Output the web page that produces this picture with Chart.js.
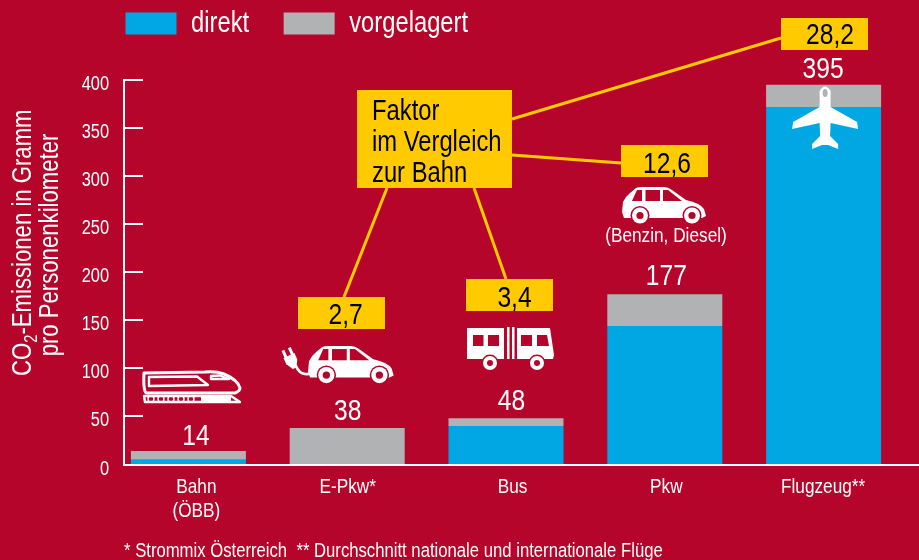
<!DOCTYPE html>
<html lang="de"><head><meta charset="utf-8">
<style>html,body{margin:0;padding:0;background:#b6052a;overflow:hidden}canvas{display:block}</style>
<script src="https://cdn.jsdelivr.net/npm/chart.js@4"></script>
</head><body><canvas id="c" width="919" height="560"></canvas>
<script>
const categories = [["Bahn","(ÖBB)"],"E-Pkw*","Bus","Pkw","Flugzeug**"];
const direkt = [5,0,40,144,372];
const vorgelagert = [9,38,8,33,23];
const totals = ["14","38","48","177","395"];
const factors = ["2,7","3,4","12,6","28,2"];
const yTicks = [0,50,100,150,200,250,300,350,400];
const titleLine2 = "pro Personenkilometer";
const footnote = "* Strommix Österreich  ** Durchschnitt nationale und internationale Flüge";
const calloutLines = ["Faktor","im Vergleich","zur Bahn"];

const FONT = '"Liberation Sans",Arial,sans-serif';
const RED='#b6052a', BLUE='#00a7e3', GREY='#b1b2b3', YEL='#ffcb00', WHITE='#ffffff';
const f = s => `${s}px ${FONT}`;

// The reference uses a narrow grotesque: condense all canvas text horizontally.
const NARROW=0.82;
const canvasEl=document.getElementById('c');
const c2d=canvasEl.getContext('2d');
const _fill=c2d.fillText.bind(c2d), _measure=c2d.measureText.bind(c2d);
c2d.fillText=function(t,x,y){c2d.save();c2d.translate(x,y);c2d.scale(NARROW,1);_fill(t,0,0);c2d.restore();};
c2d.measureText=function(t){const m=_measure(t);return {width:m.width*NARROW,actualBoundingBoxAscent:m.actualBoundingBoxAscent,actualBoundingBoxDescent:m.actualBoundingBoxDescent};};

function car(ctx,ox,oy,s){
  ctx.save();ctx.translate(ox,oy);ctx.scale(s,s);
  ctx.fillStyle=WHITE;ctx.beginPath();
  ctx.moveTo(0,25);ctx.lineTo(1,15);ctx.quadraticCurveTo(4,9,8,6);ctx.lineTo(14,1);ctx.quadraticCurveTo(16,0,20,0);
  ctx.lineTo(42,0);ctx.quadraticCurveTo(46,0,50,3);ctx.lineTo(64,13);ctx.quadraticCurveTo(78,16,82,22);ctx.lineTo(84,29);
  ctx.lineTo(80,31);ctx.lineTo(2,31);ctx.closePath();ctx.fill();
  ctx.fillStyle=RED;
  [[[10,14],[15,3],[20,3],[20,14]],[[23.5,3],[38,3],[38,14],[23.5,14]],[[41,3],[46,3],[60,14],[41,14]]].forEach(p=>{
    ctx.beginPath();p.forEach((q,i)=>i?ctx.lineTo(q[0],q[1]):ctx.moveTo(q[0],q[1]));ctx.closePath();ctx.fill();});
  [18,70].forEach(x=>{
    ctx.fillStyle=RED;ctx.beginPath();ctx.arc(x,28.5,9.5,0,7);ctx.fill();
    ctx.fillStyle=WHITE;ctx.beginPath();ctx.arc(x,28.5,8,0,7);ctx.fill();
    ctx.fillStyle=RED;ctx.beginPath();ctx.arc(x,28.5,3.6,0,7);ctx.fill();});
  ctx.restore();
}
function plug(ctx){
  ctx.strokeStyle=WHITE;ctx.lineCap='round';ctx.lineWidth=2.6;
  ctx.beginPath();ctx.moveTo(296,366);ctx.bezierCurveTo(300,376,310,376,314,370);ctx.stroke();
  ctx.save();ctx.translate(291,360);ctx.rotate(-0.42);ctx.fillStyle=WHITE;
  ctx.beginPath();ctx.moveTo(-6,-5);ctx.lineTo(6,-5);ctx.lineTo(6,2);ctx.lineTo(2,9);ctx.lineTo(-2,9);ctx.lineTo(-6,2);ctx.closePath();ctx.fill();
  ctx.fillRect(-5,-12,3,8);ctx.fillRect(2,-12,3,8);ctx.restore();
}
function bus(ctx){
  ctx.fillStyle=WHITE;ctx.fillRect(467,328,37,31);ctx.fillRect(507,327,2.5,32);ctx.fillRect(512,327,2.5,32);
  ctx.beginPath();ctx.moveTo(517,328);ctx.lineTo(550,328);ctx.lineTo(554,355);ctx.lineTo(553,359);ctx.lineTo(517,359);ctx.closePath();ctx.fill();
  ctx.fillStyle=RED;ctx.fillRect(473,335,10.5,11);ctx.fillRect(488,335,11,11);ctx.fillRect(521,335,11,11);
  ctx.beginPath();ctx.moveTo(537,335);ctx.lineTo(547,335);ctx.lineTo(549,346);ctx.lineTo(537,346);ctx.closePath();ctx.fill();
  [490,537].forEach(x=>{ctx.fillStyle=RED;ctx.beginPath();ctx.arc(x,363,8.5,0,7);ctx.fill();
    ctx.fillStyle=WHITE;ctx.beginPath();ctx.arc(x,363,7,0,7);ctx.fill();
    ctx.fillStyle=RED;ctx.beginPath();ctx.arc(x,363,3,0,7);ctx.fill();});
}
function train(ctx){
  ctx.strokeStyle=WHITE;ctx.lineWidth=3;ctx.lineJoin='round';ctx.lineCap='round';
  ctx.beginPath();ctx.moveTo(144,373);ctx.lineTo(205,372);ctx.quadraticCurveTo(216,371,224,374);ctx.quadraticCurveTo(238,380,240,388);
  ctx.quadraticCurveTo(240,391,235,393);ctx.lineTo(147,393);ctx.quadraticCurveTo(143,393,144,373);ctx.stroke();
  ctx.lineWidth=2.4;
  ctx.beginPath();ctx.moveTo(149,377);ctx.lineTo(197,376.5);ctx.lineTo(208,385);ctx.lineTo(149,386);ctx.closePath();ctx.stroke();
  ctx.beginPath();ctx.moveTo(211,376);ctx.lineTo(220,375.5);ctx.lineTo(229,379);ctx.lineTo(211,379);ctx.closePath();ctx.stroke();
  ctx.lineWidth=2.4;
  ctx.beginPath();ctx.moveTo(144,396);ctx.lineTo(231,396);ctx.lineTo(240,402);ctx.lineTo(145,402);ctx.closePath();ctx.stroke();
  ctx.fillStyle=WHITE;ctx.fillRect(201,397,30,4);
  ctx.lineWidth=1.4;[151,161,171,181,191].forEach(x=>{ctx.beginPath();ctx.arc(x,399,3,0,7);ctx.stroke();});
}
function plane(ctx,cx){
  ctx.save();ctx.translate(cx,85);ctx.fillStyle=WHITE;ctx.beginPath();
  ctx.moveTo(-5.5,6);ctx.quadraticCurveTo(0,-3,5.5,6);ctx.lineTo(5.5,22);ctx.lineTo(32,37);ctx.lineTo(33,44);ctx.lineTo(5.5,38);
  ctx.lineTo(5,51);ctx.lineTo(13,59);ctx.lineTo(13,64);ctx.lineTo(3,60);ctx.lineTo(-3,60);ctx.lineTo(-13,64);ctx.lineTo(-13,59);ctx.lineTo(-5,51);
  ctx.lineTo(-5.5,38);ctx.lineTo(-33,44);ctx.lineTo(-32,37);ctx.lineTo(-5.5,22);ctx.closePath();ctx.fill();
  ctx.fillStyle=GREY;ctx.beginPath();ctx.ellipse(0,8,2.5,4,0,0,7);ctx.fill();ctx.restore();
}

const valOffsets=[7.5,0.5,5.5,1.5,-0.5], valGaps=[6,8,8,9,7];
const catOffsets=[8,0.5,6.5,1.5,-0.5];

const backdrop={id:'backdrop',
  beforeDraw(chart){
    chart.legend.left=91;chart.legend.top=-25.5;
    chart.scales.x.getLabelItems().forEach((it,i)=>{
      if(!it.__s){it.__s=1;it.options.translation[0]+=catOffsets[i];}});
  },
  afterDatasetsDraw(chart){
    const ctx=chart.ctx,{x,y}=chart.scales;
    ctx.save();
    ctx.strokeStyle=WHITE;ctx.lineWidth=2;
    const x0=124,yb=y.getPixelForValue(0)+0.5;
    ctx.beginPath();ctx.moveTo(x0,y.getPixelForValue(400)-1);ctx.lineTo(x0,yb+1);ctx.moveTo(x0-1,yb);ctx.lineTo(919,yb);ctx.stroke();
    yTicks.slice(1).forEach(v=>{const p=Math.round(y.getPixelForValue(v));ctx.beginPath();ctx.moveTo(x0,p);ctx.lineTo(143,p);ctx.stroke();});
    ctx.fillStyle=WHITE;ctx.textBaseline='alphabetic';
    ctx.save();ctx.translate(31,376);ctx.rotate(-Math.PI/2);
    ctx.font=f(27);ctx.textAlign='left';ctx.fillText("CO",0,0);let w=ctx.measureText("CO").width;
    ctx.font=f(18);ctx.fillText("2",w,6);w+=ctx.measureText("2").width;
    ctx.font=f(27);ctx.fillText("-Emissionen in Gramm",w,0);ctx.restore();
    ctx.save();ctx.translate(58,245);ctx.rotate(-Math.PI/2);ctx.font=f(27);ctx.textAlign='center';ctx.fillText(titleLine2,0,0);ctx.restore();
    ctx.font=f(30);ctx.textAlign='center';
    totals.forEach((t,i)=>{
      const px=x.getPixelForValue(i)+valOffsets[i];
      const py=y.getPixelForValue(direkt[i]+vorgelagert[i])-valGaps[i];
      ctx.fillText(t,px,py);});
    ctx.strokeStyle=YEL;ctx.lineWidth=3;ctx.lineCap='butt';
    [[512,119,781,38],[512,155,621,163],[387,188,344,297],[474,188,506,279]].forEach(l=>{
      ctx.beginPath();ctx.moveTo(l[0],l[1]);ctx.lineTo(l[2],l[3]);ctx.stroke();});
    ctx.fillStyle=YEL;ctx.fillRect(357,90,155,98);
    const boxes=[[298,297,345.7,324],[466,279,514.5,307],[621,145,667,173],[781,18,830,44]];
    boxes.forEach(b=>ctx.fillRect(b[0],b[1],87,32));
    ctx.fillStyle='#000';ctx.font=f(30);ctx.textAlign='center';
    boxes.forEach((b,i)=>ctx.fillText(factors[i],b[2],b[3]));
    ctx.font=f(29);ctx.textAlign='left';
    calloutLines.forEach((l,i)=>ctx.fillText(l,372,[120,151,182][i]));
    train(ctx);car(ctx,308,346,1.02);plug(ctx);bus(ctx);car(ctx,622,187,1);plane(ctx,x.getPixelForValue(4)+1.5);
    ctx.fillStyle=WHITE;ctx.font=f(21);ctx.textAlign='center';ctx.fillText("(Benzin, Diesel)",666,242);
    ctx.font=f(20.35);ctx.textAlign='left';ctx.fillText(footnote,124,557);
    ctx.restore();
  }};

new Chart(canvasEl,{
  type:'bar',
  data:{labels:categories,datasets:[
    {label:'direkt',data:direkt,backgroundColor:BLUE,borderWidth:0},
    {label:'vorgelagert',data:vorgelagert,backgroundColor:GREY,borderWidth:0}]},
  plugins:[backdrop],
  options:{
    responsive:false,animation:false,
    layout:{padding:{top:6.5,right:16,left:0,bottom:0}},
    datasets:{bar:{categoryPercentage:1,barPercentage:115/158.8}},
    plugins:{tooltip:{enabled:false},
      legend:{display:true,position:'top',align:'start',
        labels:{boxWidth:51,boxHeight:22,padding:34.5,color:WHITE,font:{family:FONT,size:29}}}},
    scales:{
      x:{stacked:true,
        afterFit(s){s.height=95.5;},
        grid:{display:false,drawTicks:false},border:{display:false},
        ticks:{color:WHITE,font:{family:FONT,size:21,lineHeight:1.13},padding:11,maxRotation:0,autoSkip:false}},
      y:{stacked:true,min:0,max:400,
        afterFit(s){s.width=109;},
        afterBuildTicks(s){s.ticks=yTicks.map(v=>({value:v}));},
        grid:{display:false,drawTicks:false},border:{display:false},
        ticks:{color:WHITE,font:{family:FONT,size:20},padding:0,labelOffset:4.5}}
    }
  }
});
</script>
</body></html>
